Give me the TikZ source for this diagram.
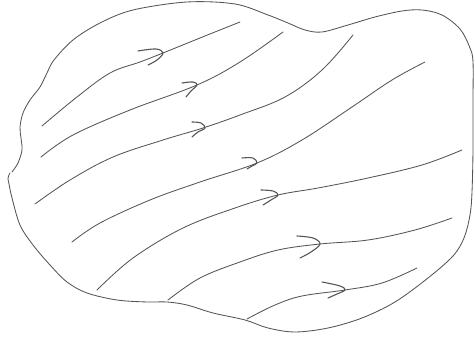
\documentclass[tikz,border=0pt]{standalone}
\definecolor{ink}{RGB}{85,85,85}
\tikzset{
  sketch/.style={draw=ink, line width=0.85pt, line cap=round, line join=round},
  chev/.style={draw=ink, line width=1.1pt, line cap=round, line join=round}
}
\begin{document}
\begin{tikzpicture}[x=1pt,y=-1pt]
\useasboundingbox (0,0) rectangle (475,339);
% outline blob
\draw[sketch] plot[smooth, tension=0.55] coordinates {
 (12,172) (18,163) (22,150) (21,138) (20,127) (23,113) (30,100) (40,87) (47,73) (54,60)
 (73,40) (100,23) (133,10) (187,2) (235,4) (268,15) (288,23) (305,30) (322,32) (348,25)
 (375,17) (402,11) (422,10) (442,15) (460,29) (470,48) (473,62) (473,100) (473,150)
 (472,192) (470,215) (464,238) (453,256) (428,278) (395,302) (362,318) (328,328) (295,332)
 (268,328) (245,320) (213,313) (187,305) (167,302) (147,302) (117,300) (87,293) (67,282)
 (50,265) (33,245) (20,225) (12,198) (9,184) (8,178) (10,173)};
% stream lines
\draw[sketch] plot[smooth, tension=0.6] coordinates {(42,126) (77,97) (110,73) (140,62) (163,53) (200,38) (240,22)};
\draw[sketch] plot[smooth, tension=0.6] coordinates {(41,157) (73,135) (130,110) (197,85) (240,62) (283,32)};
\draw[sketch] plot[smooth, tension=0.6] coordinates {(35,204) (70,180) (113,157) (163,140) (203,128) (240,115) (285,97) (322,70) (353,35)};
\draw[sketch] plot[smooth, tension=0.6] coordinates {(72,242) (100,223) (150,200) (200,182) (257,163) (302,140) (352,107) (392,80) (425,62)};
\draw[sketch] plot[smooth, tension=0.6] coordinates {(97,290) (133,258) (183,228) (235,208) (278,195) (318,188) (368,178) (422,165) (462,150)};
\draw[sketch] plot[smooth, tension=0.6] coordinates {(168,300) (200,278) (240,262) (278,250) (320,244) (368,240) (415,230) (452,218)};
\draw[sketch] plot[smooth, tension=0.6] coordinates {(247,319) (275,305) (302,296) (345,290) (382,283) (417,268)};
% chevrons
\draw[chev] plot[smooth, tension=0.6] coordinates {(138,51) (156,49) (163,53) (157,60) (148,65)};
\draw[chev] plot[smooth, tension=0.6] coordinates {(182,83) (193,82) (197,85) (191,91) (186,97)};
\draw[chev] plot[smooth, tension=0.6] coordinates {(192,122) (201,123) (205,128) (198,132) (192,137)};
\draw[chev] plot[smooth, tension=0.6] coordinates {(242,158) (253,158) (257,163) (252,166) (247,169)};
\draw[chev] plot[smooth, tension=0.6] coordinates {(261,190) (273,191) (278,195) (271,200) (263,205)};
\draw[chev] plot[smooth, tension=0.6] coordinates {(297,236) (313,238) (320,244) (311,252) (300,258)};
\draw[chev] plot[smooth, tension=0.6] coordinates {(322,282) (340,286) (345,290) (337,294) (328,298)};
\end{tikzpicture}
\end{document}
